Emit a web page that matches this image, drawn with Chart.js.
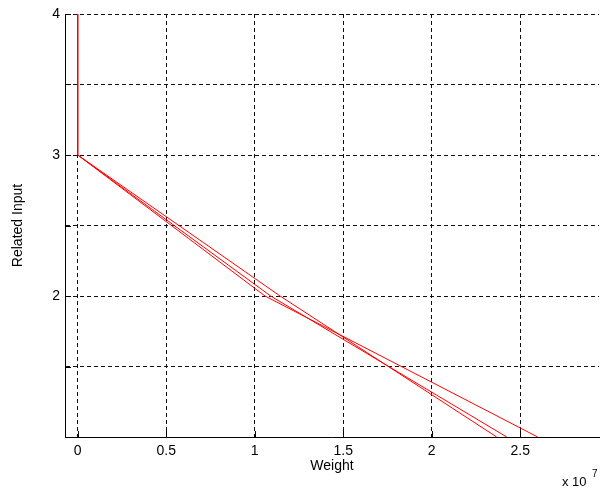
<!DOCTYPE html>
<html>
<head>
<meta charset="utf-8">
<script src="https://cdn.jsdelivr.net/npm/chart.js@4.4.0/dist/chart.umd.min.js"></script>
<style>
  body { margin: 0; background: #fff; }
</style>
</head>
<body>
<canvas id="weightChart" width="613" height="491"></canvas>
<script>
// values (weight in raw units, axis shows them x 10^7)
const weightA = [0, 0, 1.143e7, 2.367e7];
const inputA = [4, 3, 2, 1];
const weightB = [0, 1.09e7, 2.424e7];
const inputB = [3, 2, 1];
const weightC = [0, 1.058e7, 2.599e7];
const inputC = [3, 2, 1];

const xTicks = [0, 0.5e7, 1e7, 1.5e7, 2e7, 2.5e7];
const yTicks = [1.5, 2, 2.5, 3, 3.5, 4];
const yLabels = [2, 3, 4];

const fontFamily = '"Liberation Sans", Arial, Helvetica, sans-serif';

function toPoints(xs, ys) {
    return xs.map((x, i) => ({ x: x, y: ys[i] }));
}

function lineSet(xs, ys) {
    return {
        data: toPoints(xs, ys),
        showLine: true,
        borderColor: '#ff0000',
        borderWidth: 1,
        pointRadius: 0,
        tension: 0,
        fill: false
    };
}

// matlab style ticks pointing into the plot + the exponent label
const axisExtras = {
    id: 'axisExtras',
    afterDraw(chart) {
        const ctx = chart.ctx;
        const area = chart.chartArea;
        const xs = chart.scales.x;
        const ys = chart.scales.y;
        ctx.save();
        ctx.strokeStyle = '#000';
        ctx.lineWidth = 1;
        ctx.beginPath();
        xTicks.forEach(v => {
            const px = Math.round(xs.getPixelForValue(v)) + 0.5;
            ctx.moveTo(px, area.bottom);
            ctx.lineTo(px, area.bottom - 6);
        });
        yTicks.forEach(v => {
            const py = Math.round(ys.getPixelForValue(v)) + 0.5;
            ctx.moveTo(area.left, py);
            ctx.lineTo(area.left + 6, py);
        });
        ctx.stroke();

        ctx.fillStyle = '#000';
        ctx.textBaseline = 'alphabetic';
        ctx.font = '13px ' + fontFamily;
        ctx.fillText('x 10', 562, 486);
        ctx.font = '10px ' + fontFamily;
        ctx.fillText('7', 592, 477);
        ctx.restore();
    }
};

const ctx = document.getElementById('weightChart').getContext('2d');
const weightChart = new Chart(ctx, {
    type: 'scatter',
    data: {
        datasets: [
            lineSet(weightA, inputA),
            lineSet(weightB, inputB),
            lineSet(weightC, inputC)
        ]
    },
    options: {
        responsive: false,
        animation: false,
        layout: {
            padding: { top: 14, right: 14, left: 0, bottom: 0 }
        },
        plugins: {
            legend: { display: false },
            tooltip: { enabled: false }
        },
        scales: {
            x: {
                type: 'linear',
                min: -0.072e7,
                max: 2.945e7,
                afterFit(scale) { scale.height = 54; },
                afterBuildTicks(scale) {
                    scale.ticks = xTicks.map(v => ({ value: v }));
                },
                ticks: {
                    autoSkip: false,
                    maxRotation: 0,
                    padding: 6,
                    color: '#000',
                    font: { size: 14, family: fontFamily },
                    callback: v => String(v / 1e7)
                },
                grid: {
                    color: '#111',
                    lineWidth: 1,
                    drawTicks: false
                },
                border: {
                    display: true,
                    color: '#000',
                    width: 1,
                    dash: [4, 3]
                },
                title: {
                    display: true,
                    text: 'Weight',
                    color: '#000',
                    font: { size: 14, family: fontFamily },
                    padding: { top: 0, bottom: 16 }
                }
            },
            y: {
                type: 'linear',
                min: 1,
                max: 4,
                afterFit(scale) { scale.width = 65; },
                afterBuildTicks(scale) {
                    scale.ticks = yTicks.map(v => ({ value: v }));
                },
                ticks: {
                    autoSkip: false,
                    padding: 5,
                    color: '#000',
                    font: { size: 14, family: fontFamily },
                    callback: v => yLabels.includes(v) ? String(v) : ''
                },
                grid: {
                    color: '#111',
                    lineWidth: 1,
                    drawTicks: false
                },
                border: {
                    display: true,
                    color: '#000',
                    width: 1,
                    dash: [4, 3]
                },
                title: {
                    display: true,
                    text: 'Related Input',
                    color: '#000',
                    font: { size: 14, family: fontFamily },
                    padding: { top: 10, bottom: 0 }
                }
            }
        }
    },
    plugins: [axisExtras]
});
</script>
</body>
</html>
